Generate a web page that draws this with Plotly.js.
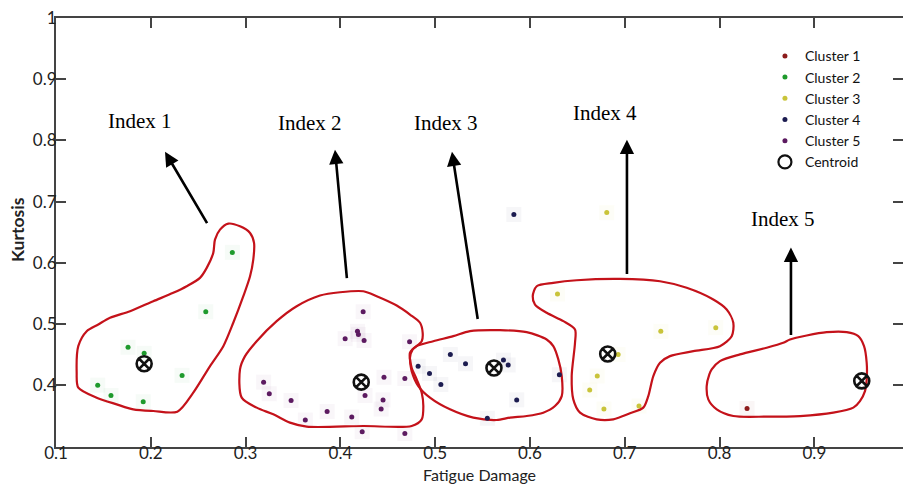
<!DOCTYPE html>
<html>
<head>
<meta charset="utf-8">
<script src="https://cdn.plot.ly/plotly-3.0.1.min.js"></script>
<style>html,body{margin:0;padding:0;background:#fff;}#chart{width:903px;height:484px;}</style>
</head>
<body>
<div id="chart"></div>
<script>
// ---- data ----
const clusterNames = ["Cluster 1", "Cluster 2", "Cluster 3", "Cluster 4", "Cluster 5"];
const clusterColors = ["#8c1c1c", "#1e9a2c", "#c9c43a", "#1c1c50", "#5c1a60"];

const c1x = [0.829];
const c1y = [0.362];

const c2x = [0.286, 0.258, 0.176, 0.193, 0.233, 0.144, 0.158, 0.192];
const c2y = [0.617, 0.520, 0.462, 0.452, 0.416, 0.400, 0.383, 0.373];

const c3x = [0.681, 0.629, 0.738, 0.796, 0.693, 0.671, 0.663, 0.678, 0.715];
const c3y = [0.682, 0.549, 0.488, 0.494, 0.450, 0.415, 0.392, 0.361, 0.366];

const c4x = [0.583, 0.516, 0.482, 0.532, 0.572, 0.577, 0.494, 0.506, 0.631, 0.586, 0.555];
const c4y = [0.679, 0.450, 0.431, 0.435, 0.441, 0.433, 0.419, 0.401, 0.417, 0.376, 0.346];

const c5x = [0.424, 0.418, 0.419, 0.405, 0.425, 0.473, 0.446, 0.468, 0.319, 0.325, 0.426, 0.348, 0.445, 0.443, 0.386, 0.412, 0.363, 0.423, 0.468];
const c5y = [0.520, 0.488, 0.483, 0.476, 0.473, 0.471, 0.413, 0.411, 0.405, 0.386, 0.383, 0.375, 0.376, 0.361, 0.357, 0.348, 0.343, 0.324, 0.321];

const centroidX = [0.950, 0.193, 0.682, 0.562, 0.422];
const centroidY = [0.407, 0.435, 0.451, 0.428, 0.405];

const xTicks = [0.1, 0.2, 0.3, 0.4, 0.5, 0.6, 0.7, 0.8, 0.9];
const yTicks = [0.4, 0.5, 0.6, 0.7, 0.8, 0.9, 1];
const yTickText = ["0.4", "0.5", "0.6", "0.7", "0.8", "0.9", "1"];

// hand-drawn red outlines (data units)
const out1x = [0.2818,0.2941,0.3047,0.3089,0.3081,0.3047,0.2976,0.287,0.2765,0.2625,0.2448,0.228,0.2026,0.1815,0.164,0.1429,0.1235,0.1218,0.1235,0.1324,0.1446,0.157,0.1781,0.2026,0.2237,0.2379,0.2519,0.259,0.2659,0.2677,0.273,0.2818];
const out1y = [0.664,0.6596,0.6488,0.6325,0.6052,0.578,0.5454,0.502,0.4638,0.4312,0.3878,0.3568,0.3578,0.3605,0.3687,0.3796,0.3959,0.4204,0.4638,0.4883,0.4992,0.5101,0.5209,0.5372,0.5509,0.5617,0.5754,0.5917,0.6162,0.6378,0.6542,0.664];
const out2x = [0.2941,0.2959,0.3117,0.3292,0.3468,0.3645,0.4242,0.4752,0.4858,0.4875,0.4858,0.4805,0.4752,0.4734,0.4763,0.4858,0.4868,0.484,0.4734,0.4594,0.4383,0.4242,0.3996,0.3785,0.3539,0.3328,0.3117,0.2994,0.2941];
const out2y = [0.4258,0.3796,0.3633,0.3524,0.3388,0.3323,0.3333,0.3333,0.3442,0.3659,0.3878,0.4095,0.4286,0.4449,0.4584,0.472,0.4857,0.502,0.5155,0.5302,0.5454,0.5535,0.5519,0.5465,0.529,0.5046,0.4719,0.4475,0.4258];
const out3x = [0.4734,0.4805,0.498,0.5191,0.5367,0.5684,0.5965,0.6176,0.6246,0.6299,0.6335,0.6335,0.6264,0.614,0.5965,0.5789,0.5649,0.5402,0.5156,0.4945,0.4822,0.4752,0.4734,0.4734];
const out3y = [0.453,0.4638,0.4719,0.4801,0.4883,0.4899,0.4866,0.4747,0.4638,0.4421,0.4149,0.3822,0.3659,0.3551,0.3496,0.347,0.3431,0.347,0.3605,0.3796,0.3985,0.423,0.4421,0.453];
const out4x = [0.6071,0.6246,0.6493,0.695,0.7372,0.7653,0.7934,0.8075,0.8145,0.8128,0.8004,0.7723,0.7477,0.7372,0.7301,0.7248,0.7195,0.7055,0.6879,0.6704,0.6528,0.6457,0.644,0.6475,0.6475,0.6352,0.6176,0.6053,0.6029,0.6071];
const out4y = [0.5617,0.5672,0.5715,0.5737,0.5698,0.5591,0.54,0.5237,0.502,0.4801,0.4638,0.4556,0.4475,0.4367,0.4149,0.3822,0.3633,0.354,0.3442,0.3442,0.3551,0.3768,0.4149,0.4693,0.491,0.5046,0.5183,0.5318,0.5454,0.5617];
const out5x = [0.7917,0.8004,0.8215,0.8497,0.8672,0.8743,0.8919,0.913,0.9341,0.9463,0.9524,0.9552,0.9552,0.9534,0.9481,0.9411,0.92,0.8849,0.8497,0.8145,0.797,0.7881,0.7864,0.7892,0.7917];
const out5y = [0.4258,0.4393,0.4503,0.4612,0.4693,0.4747,0.4812,0.4866,0.4866,0.4801,0.4638,0.4367,0.4095,0.3904,0.3741,0.3633,0.3551,0.3496,0.3486,0.3496,0.3605,0.3768,0.3985,0.4176,0.4258];

// index labels and arrows (data units)
const indexLabels = ["Index 1", "Index 2", "Index 3", "Index 4", "Index 5"];
const labelX = [0.1886, 0.3679, 0.5114, 0.6791, 0.8669];
const labelY = [0.832, 0.8287, 0.8287, 0.845, 0.6721];
const arrowTailX = [0.2603, 0.4070, 0.5451, 0.7023, 0.8753];
const arrowTailY = [0.6623, 0.5726, 0.5057, 0.5791, 0.4796];
const arrowHeadX = [0.2150, 0.3943, 0.5177, 0.7023, 0.8753];
const arrowHeadY = [0.7814, 0.7847, 0.7814, 0.8010, 0.6248];

// ---- build traces ----
const clustersX = [c1x, c2x, c3x, c4x, c5x];
const clustersY = [c1y, c2y, c3y, c4y, c5y];
const traces = [];

// very faint halos around points
for (let i = 0; i < 5; i++) {
  traces.push({
    x: clustersX[i], y: clustersY[i], type: 'scatter', mode: 'markers',
    marker: {symbol: 'square', size: 15, color: clusterColors[i], opacity: 0.04},
    showlegend: false, hoverinfo: 'skip'
  });
}

const outsX = [out1x, out2x, out3x, out4x, out5x];
const outsY = [out1y, out2y, out3y, out4y, out5y];
for (let i = 0; i < 5; i++) {
  traces.push({
    x: outsX[i], y: outsY[i], type: 'scatter', mode: 'lines',
    line: {color: '#c4121a', width: 2.2, shape: 'spline', smoothing: 0.8},
    showlegend: false, hoverinfo: 'skip'
  });
}

for (let i = 0; i < 5; i++) {
  traces.push({
    x: clustersX[i], y: clustersY[i], type: 'scatter', mode: 'markers',
    name: clusterNames[i],
    marker: {symbol: 'circle', size: 5, color: clusterColors[i]}
  });
}

traces.push({
  x: centroidX, y: centroidY, type: 'scatter', mode: 'markers', showlegend: false,
  marker: {symbol: 'circle-x-open', size: 15, color: '#111', line: {width: 2.6, color: '#111'}}
});
// legend entry for centroid (plain open circle)
traces.push({
  x: [null], y: [null], type: 'scatter', mode: 'markers', name: 'Centroid',
  marker: {symbol: 'circle-open', size: 13, color: '#111', line: {width: 2.2, color: '#111'}}
});

const annotations = [];
for (let i = 0; i < 5; i++) {
  annotations.push({
    x: labelX[i], y: labelY[i], xref: 'x', yref: 'y', text: indexLabels[i], showarrow: false,
    font: {family: 'Liberation Serif, Times New Roman, serif', size: 21, color: '#000'}
  });
  annotations.push({
    x: arrowHeadX[i], y: arrowHeadY[i], ax: arrowTailX[i], ay: arrowTailY[i],
    xref: 'x', yref: 'y', axref: 'x', ayref: 'y', text: '', showarrow: true,
    arrowhead: 2, arrowsize: 1.1, arrowwidth: 2.6, arrowcolor: '#000'
  });
}
annotations.push({
  xref: 'paper', yref: 'paper', x: 0.5, y: 0, yanchor: 'top', xanchor: 'center', yshift: -16,
  text: 'Fatigue Damage',
  showarrow: false, font: {family: 'Lato, sans-serif', size: 16, color: '#222'}
});
annotations.push({
  xref: 'paper', yref: 'paper', x: 0, y: 0.506, xanchor: 'center', yanchor: 'middle', xshift: -38,
  text: '<b>Kurtosis</b>', textangle: -90,
  showarrow: false, font: {family: 'Lato, sans-serif', size: 17.5, color: '#222'}
});

const axisCommon = {
  showgrid: false, zeroline: false, showline: true, mirror: 'all',
  linecolor: '#444', linewidth: 2, ticks: 'inside', ticklen: 10, tickwidth: 2, tickcolor: '#444',
  tickfont: {family: 'Lato, sans-serif', size: 17, color: '#222'}
};

const layout = {
  width: 903, height: 484,
  margin: {l: 56, r: 0, t: 18, b: 37},
  paper_bgcolor: '#fff', plot_bgcolor: '#fff',
  xaxis: Object.assign({}, axisCommon, {range: [0.1, 0.9935], tickvals: xTicks, ticktext: xTicks.map(String), ticklabelstandoff: -10}),
  yaxis: Object.assign({}, axisCommon, {range: [0.299, 1.0], tickvals: yTicks, ticktext: yTickText, ticklabelstandoff: -6}),
  legend: {x: 0.837, y: 0.948, xanchor: 'left', yanchor: 'top', bgcolor: 'rgba(0,0,0,0)',
           font: {family: 'Lato, sans-serif', size: 14, color: '#111'}, itemwidth: 30, tracegroupgap: 0},
  annotations: annotations,
  showlegend: true
};

Plotly.newPlot('chart', traces, layout, {displayModeBar: false, staticPlot: true});
</script>
</body>
</html>
